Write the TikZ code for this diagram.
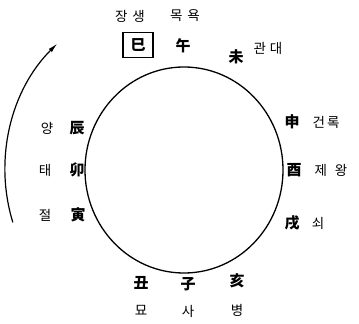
\documentclass[tikz,border=0pt]{standalone}
\usepackage{fontspec}
\usepackage{tikz}
\usetikzlibrary{arrows.meta}
\newfontfamily\krfont{Noto Sans CJK KR}

\tikzset{
  hanja/.style={font=\krfont\bfseries\fontsize{15}{16}\selectfont, inner sep=0pt},
  hangul/.style={font=\krfont\fontsize{13.5}{15}\selectfont, inner sep=0pt},
  sabox/.style={draw, line width=1.2pt, minimum width=30pt, minimum height=25pt}
}

\begin{document}
\begin{tikzpicture}[x=1pt,y=-1pt]
\useasboundingbox (0,0) rectangle (359,324);

% Circle of branches
\coordinate (ctr) at (184,170);
\draw[line width=1.3pt] (ctr) ellipse [x radius=99, y radius=103];

% Outer arc
\draw[line width=1.2pt, -{Latex[length=10pt,width=4.5pt]}]
  (ctr) ++(163:179) arc [start angle=163, end angle=225, radius=179];

% Top
\node[hangul] (jangsaeng) at (130,16) {장\hspace{5pt}생};
\node[hangul] (mogyok) at (185,16) {목\hspace{5pt}욕};
\node[hanja, sabox] (sa) at (138,45) {巳};
\node[hanja] (o) at (183,46) {午};
\node[hanja] (mi) at (236,57) {未};
\node[hangul] (gwandae) at (268,48) {관\hspace{4pt}대};

% Right side
\node[hanja] (sin) at (292,122) {申};
\node[hangul] (geonrok) at (326,122) {건\hspace{2pt}록};
\node[hanja] (yu) at (294,170) {酉};
\node[hangul] (jewang) at (331,170) {제\hspace{8pt}왕};
\node[hanja] (sul) at (292,223) {戌};
\node[hangul] (soe) at (318,223) {쇠};

% Bottom
\node[hanja] (chuk) at (141,283) {丑};
\node[hanja] (ja) at (188,284) {子};
\node[hanja] (hae) at (237,281) {亥};
\node[hangul] (myo) at (141,310) {묘};
\node[hangul] (sa2) at (188,311) {사};
\node[hangul] (byeong) at (237,310) {병};

% Left side
\node[hangul] (yang) at (47,128) {양};
\node[hanja] (jin) at (77,128) {辰};
\node[hangul] (tae) at (45,170) {태};
\node[hanja] (myo2) at (77,170) {卯};
\node[hangul] (jeol) at (45,215) {절};
\node[hanja] (in) at (78,215) {寅};
\end{tikzpicture}
\end{document}
